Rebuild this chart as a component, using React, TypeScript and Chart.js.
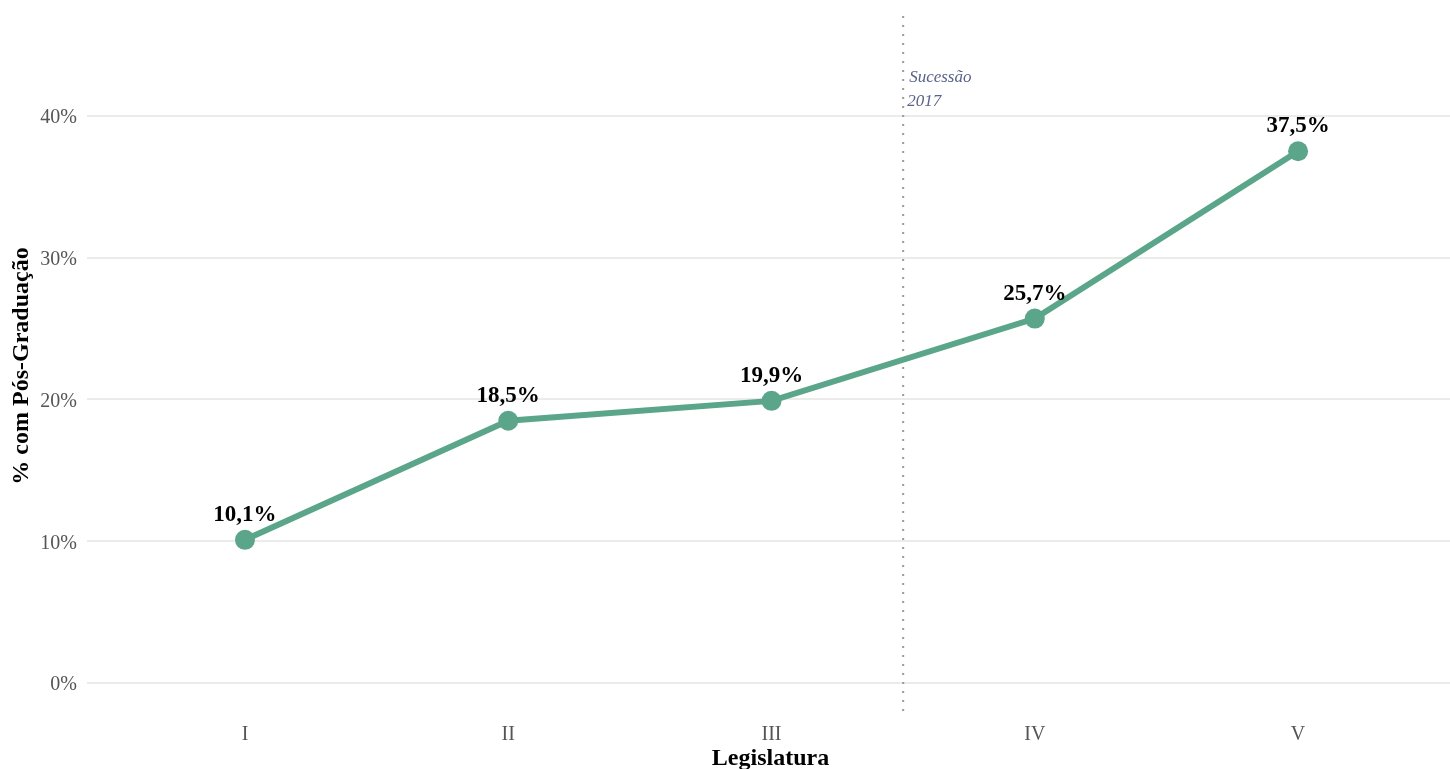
import React, { useEffect, useRef } from "react";
import { Chart, registerables } from "chart.js";

Chart.register(...registerables);

const categories = ["I", "II", "III", "IV", "V"];
const values = [10.1, 18.5, 19.9, 25.7, 37.5];
const valueLabels = ["10,1%", "18,5%", "19,9%", "25,7%", "37,5%"];
const yTicks = [0, 10, 20, 30, 40];
const eventPosition = 2.5;
const eventLabel = ["Sucessão", "2017"];
const yTitle = "% com Pós-Graduação";
const xTitle = "Legislatura";

const FONT = "'Liberation Serif', 'Times New Roman', serif";
const GREEN = "#5ba58a";

export default function App() {
  const ref = useRef<HTMLCanvasElement | null>(null);

  useEffect(() => {
    document.body.style.margin = "0";
    const canvas = ref.current;
    if (!canvas) return;

    const overlay = {
      id: "overlay",
      beforeDatasetsDraw(chart: any) {
        const { ctx, chartArea, scales } = chart;
        const x = scales.x.getPixelForValue(eventPosition);
        ctx.save();
        ctx.strokeStyle = "#9a9a9a";
        ctx.lineWidth = 2;
        ctx.setLineDash([2, 7]);
        ctx.beginPath();
        ctx.moveTo(x, chartArea.top + 3);
        ctx.lineTo(x, chartArea.bottom);
        ctx.stroke();
        ctx.setLineDash([]);
        ctx.fillStyle = "#5b6388";
        ctx.font = `italic 17px ${FONT}`;
        ctx.textAlign = "left";
        ctx.textBaseline = "alphabetic";
        ctx.fillText(eventLabel[0], x + 6, 82);
        ctx.fillText(eventLabel[1], x + 4, 106);
        ctx.restore();
      },
      afterDraw(chart: any) {
        const { ctx, chartArea, scales } = chart;
        ctx.save();
        ctx.fillStyle = "#000";
        ctx.font = `bold 23px ${FONT}`;
        ctx.textAlign = "center";
        ctx.textBaseline = "middle";
        values.forEach((v, i) => {
          const px = scales.x.getPixelForValue(i);
          const py = scales.y.getPixelForValue(v);
          ctx.fillText(valueLabels[i], px, py - 25);
        });
        ctx.font = `bold 24px ${FONT}`;
        ctx.fillText(xTitle, (chartArea.left + chartArea.right) / 2 + 2, 759);
        ctx.translate(22, (chartArea.top + chartArea.bottom) / 2 + 2);
        ctx.rotate(-Math.PI / 2);
        ctx.fillText(yTitle, 0, 0);
        ctx.restore();
      },
    };

    const chart = new Chart(canvas, {
      type: "line",
      data: {
        datasets: [
          {
            data: values.map((v, i) => ({ x: i, y: v })),
            borderColor: GREEN,
            backgroundColor: GREEN,
            borderWidth: 6,
            pointRadius: 10,
            pointHoverRadius: 10,
            pointBorderWidth: 0,
            tension: 0,
          },
        ],
      },
      options: {
        animation: false,
        responsive: false,
        maintainAspectRatio: false,
        layout: { autoPadding: false, padding: { top: 13, right: 0, bottom: 0, left: 0 } },
        plugins: {
          legend: { display: false },
          tooltip: { enabled: false },
        },
        scales: {
          x: {
            type: "linear",
            min: -0.6,
            max: 4.577,
            afterBuildTicks: (s: any) => {
              s.ticks = categories.map((_, i) => ({ value: i }));
            },
            afterFit: (s: any) => {
              s.height = 54;
              s.paddingLeft = 0;
              s.paddingRight = 0;
            },
            ticks: {
              callback: (v: any) => categories[Math.round(Number(v))] ?? "",
              color: "#555",
              font: { family: FONT, size: 20 },
              padding: 8,
              maxRotation: 0,
              autoSkip: false,
            },
            grid: { display: false, drawTicks: false },
            border: { display: false },
          },
          y: {
            type: "linear",
            min: -2.25,
            max: 47.25,
            afterBuildTicks: (s: any) => {
              s.ticks = yTicks.map((v) => ({ value: v }));
            },
            afterFit: (s: any) => {
              s.width = 87;
              s.paddingTop = 0;
              s.paddingBottom = 0;
            },
            ticks: {
              callback: (v: any) => `${v}%`,
              color: "#555",
              font: { family: FONT, size: 20 },
              padding: 10,
              labelOffset: 2,
            },
            grid: { color: "#ebebeb", lineWidth: 2, drawTicks: false },
            border: { display: false },
          },
        },
      },
      plugins: [overlay],
    });

    return () => chart.destroy();
  }, []);

  return (
    <div style={{ width: 1450, height: 769, position: "relative" }}>
      <canvas ref={ref} width={1450} height={769} style={{ display: "block", width: 1450, height: 769 }} />
    </div>
  );
}
